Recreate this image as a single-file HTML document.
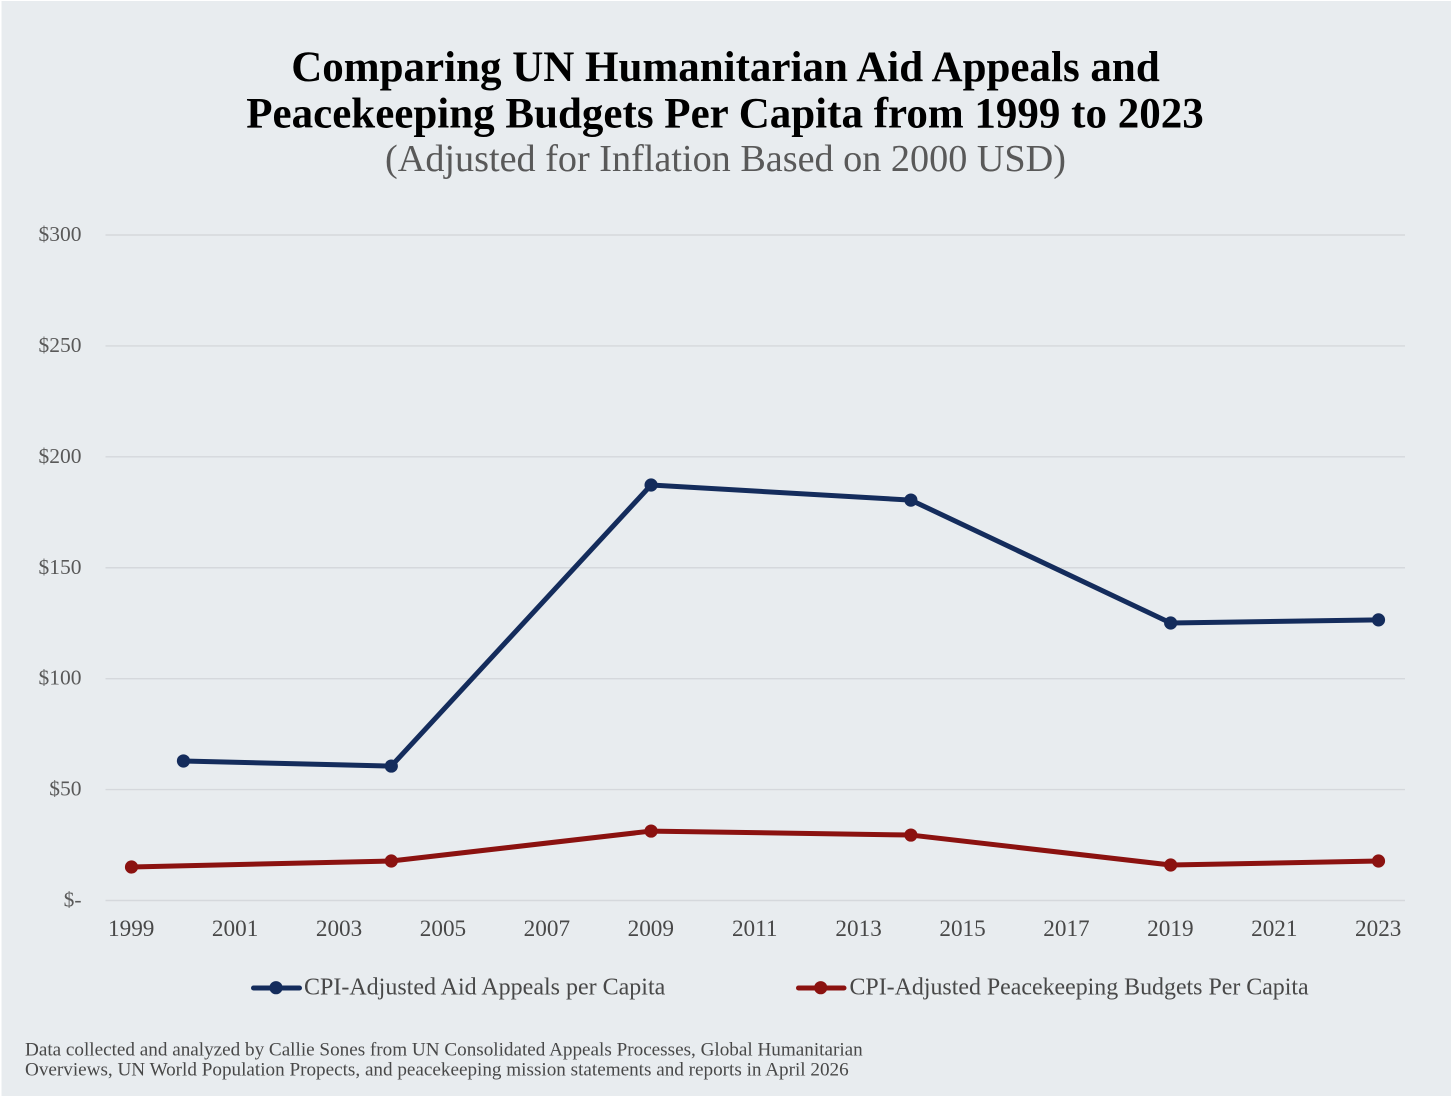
<!DOCTYPE html>
<html lang="en">
<head>
<meta charset="utf-8">
<title>UN Humanitarian Aid Appeals and Peacekeeping Budgets Per Capita</title>
<style>
html,body{margin:0;padding:0;background:#fff;}
body{width:1456px;height:1100px;overflow:hidden;}
svg{display:block;font-family:"Liberation Serif",serif;}
</style>
</head>
<body>
<svg id="chart" width="1456" height="1100" viewBox="0 0 1456 1100" xmlns="http://www.w3.org/2000/svg">
  <rect x="1.5" y="1" width="1449.5" height="1095" fill="#e8ecef"/>
  <text x="725.5" y="81" text-anchor="middle" font-size="43" font-weight="bold" fill="#000">Comparing UN Humanitarian Aid Appeals and</text>
  <text x="725" y="127.5" text-anchor="middle" font-size="43" font-weight="bold" fill="#000">Peacekeeping Budgets Per Capita from 1999 to 2023</text>
  <text x="725.5" y="171" text-anchor="middle" font-size="38.2" fill="#595959">(Adjusted for Inflation Based on 2000 USD)</text>
  <g id="grid"></g>
  <g id="yticks"></g>
  <g id="xticks"></g>
  <g id="series"></g>
  <g>
    <g>
      <line x1="253.5" y1="988" x2="299.5" y2="988" stroke="#142c5c" stroke-width="5" stroke-linecap="round"/>
      <circle cx="276" cy="987.7" r="6.6" fill="#142c5c"/>
      <text x="304" y="994.5" font-size="24" fill="#484848">CPI-Adjusted Aid Appeals per Capita</text>
    </g>
    <g>
      <line x1="798.5" y1="988" x2="844" y2="988" stroke="#8b1210" stroke-width="5" stroke-linecap="round"/>
      <circle cx="820.7" cy="987.7" r="6.6" fill="#8b1210"/>
      <text x="849.5" y="994.5" font-size="23.9" fill="#484848">CPI-Adjusted Peacekeeping Budgets Per Capita</text>
    </g>
  </g>
  <text x="25" y="1055.5" font-size="19.15" fill="#484848">Data collected and analyzed by Callie Sones from UN Consolidated Appeals Processes, Global Humanitarian</text>
  <text x="25" y="1075.5" font-size="19.15" fill="#484848">Overviews, UN World Population Propects, and peacekeeping mission statements and reports in April 2026</text>
</svg>
<script>
const yTickValues = [0, 50, 100, 150, 200, 250, 300];
const yTickLabels = ["$-", "$50", "$100", "$150", "$200", "$250", "$300"];
const xTickYears = [1999, 2001, 2003, 2005, 2007, 2009, 2011, 2013, 2015, 2017, 2019, 2021, 2023];
const aidYears = [2000, 2004, 2009, 2014, 2019, 2023];
const aidValues = [62.9, 60.6, 187.3, 180.5, 125.1, 126.5];
const peaceYears = [1999, 2004, 2009, 2014, 2019, 2023];
const peaceValues = [15.1, 17.8, 31.3, 29.5, 16.0, 17.8];

const NS = 'http://www.w3.org/2000/svg';
const xScale = year => 131.5 + (year - 1999) * (1378.5 - 131.5) / 24;
const yScale = value => 900.5 - value * (900.5 - 235) / 300;

function make(tag, attrs, parent, text) {
  const el = document.createElementNS(NS, tag);
  for (const k in attrs) el.setAttribute(k, attrs[k]);
  if (text !== undefined) el.textContent = text;
  parent.appendChild(el);
  return el;
}

const grid = document.getElementById('grid');
const yticks = document.getElementById('yticks');
const xticks = document.getElementById('xticks');
const series = document.getElementById('series');

yTickValues.forEach((v, i) => {
  const line = make('line', {x1: 105.5, x2: 1405, y1: yScale(v), y2: yScale(v), stroke: '#d5d8dc', 'stroke-width': 1.4}, grid);
  
  
  const label = make('text', {x: 81.5, y: yScale(v) + 6, 'text-anchor': 'end', 'font-size': 21.5, fill: '#595959'}, yticks, yTickLabels[i]);
  
  
});

xTickYears.forEach(year => {
  const label = make('text', {x: xScale(year) - 0.3, y: 936, 'text-anchor': 'middle', 'font-size': 23.2, fill: '#484848'}, xticks, String(year));
  
  
});

function drawSeries(years, values, color, name) {
  const g = make('g', {}, series);
  
  
  const pts = years.map((y, i) => xScale(y) + ',' + yScale(values[i])).join(' ');
  const line = make('polyline', {points: pts, fill: 'none', stroke: color, 'stroke-width': 5, 'stroke-linejoin': 'round', 'stroke-linecap': 'round'}, g);
  
  
  years.forEach((y, i) => {
    const c = make('circle', {cx: xScale(y), cy: yScale(values[i]), r: 6.6, fill: color}, g);
    
    
  });
}

drawSeries(aidYears, aidValues, '#142c5c', 'aid-appeals-series');
drawSeries(peaceYears, peaceValues, '#8b1210', 'peacekeeping-budgets-series');
</script>
</body>
</html>
